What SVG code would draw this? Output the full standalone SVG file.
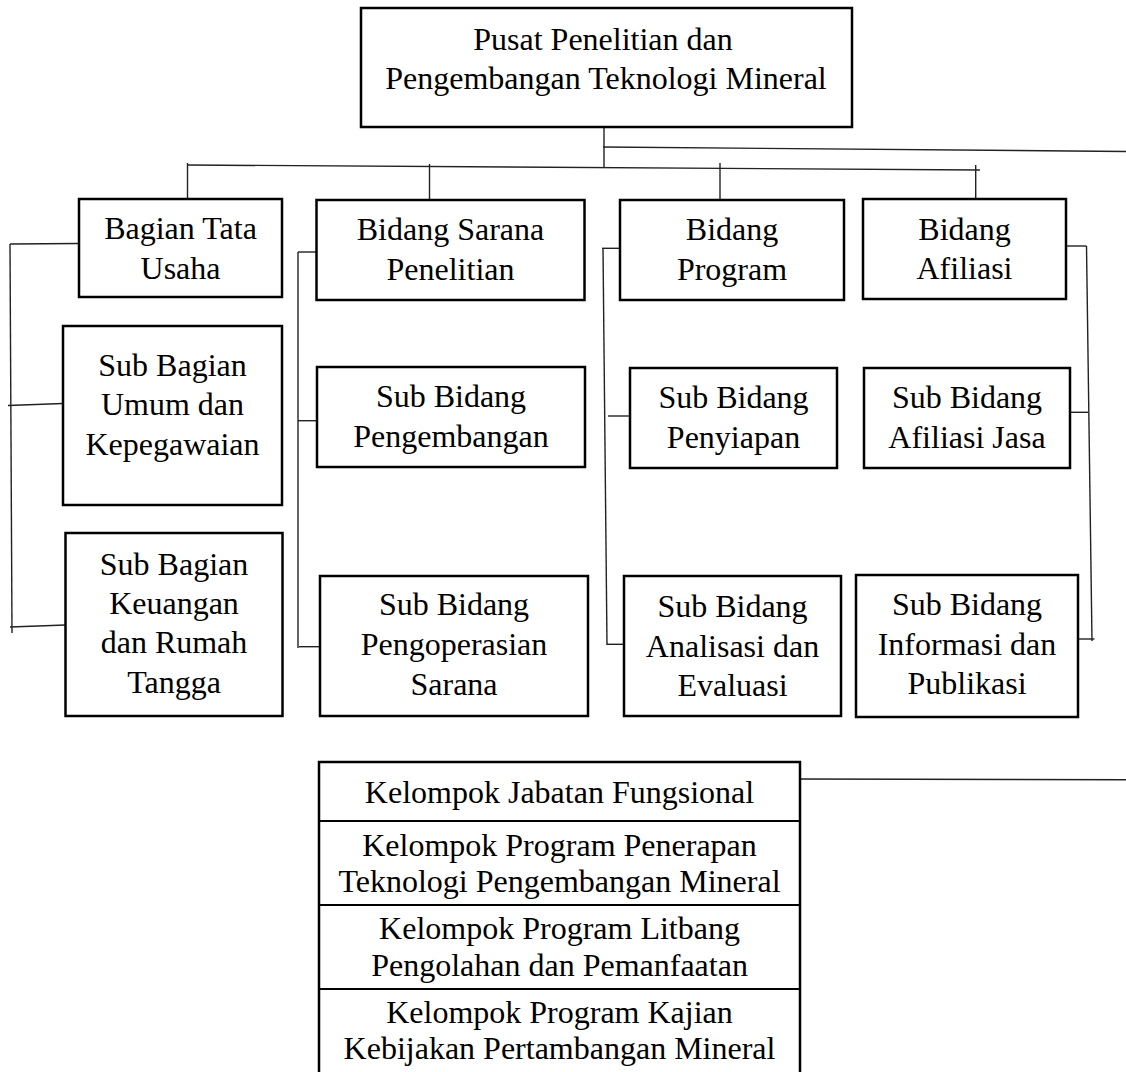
<svg xmlns="http://www.w3.org/2000/svg" width="1126" height="1072" viewBox="0 0 1126 1072">
<style>
.box{fill:#fff;stroke:#000;stroke-width:2.5}
.div{stroke:#000;stroke-width:2.2;fill:none}
.t{font-family:"Liberation Serif","Times New Roman",serif;font-size:32px;text-anchor:middle;fill:#000}
.c{stroke:#222;stroke-width:1.4;fill:none}
</style>
<rect width="1126" height="1072" fill="#fff"/>
<g id="connectors">
<polyline class="c" points="604,127 604,167"/>
<polyline class="c" points="603,147 1126,151.5"/>
<polyline class="c" points="187,165 980,170"/>
<polyline class="c" points="187.5,163 187.5,199"/>
<polyline class="c" points="429.5,164 429.5,200"/>
<polyline class="c" points="720,163 720,200"/>
<polyline class="c" points="975.7,165 975.7,202"/>
<polyline class="c" points="79,243.5 10,244"/>
<polyline class="c" points="10,244 12,633"/>
<polyline class="c" points="8,405.5 63,403.5"/>
<polyline class="c" points="10,627 65.5,625"/>
<polyline class="c" points="316.5,252 298,252"/>
<polyline class="c" points="298,252 298,648"/>
<polyline class="c" points="298,420.7 317,420.7"/>
<polyline class="c" points="299,646.7 320,646.7"/>
<polyline class="c" points="620,248.3 602,248.3"/>
<polyline class="c" points="603,248.3 607,645"/>
<polyline class="c" points="608,416 630,416"/>
<polyline class="c" points="606.7,644.3 624,644.3"/>
<polyline class="c" points="1066,246 1086.5,246"/>
<polyline class="c" points="1086.5,246 1092,641"/>
<polyline class="c" points="1070,412.3 1088,412.3"/>
<polyline class="c" points="1075,639 1094.5,639"/>
<polyline class="c" points="798,779 1126,779.7"/>
</g>
<g id="n-pusat">
<rect class="box" x="361" y="8" width="491" height="119"/>
<text class="t" x="603" y="50">Pusat Penelitian dan</text>
<text class="t" x="606" y="89">Pengembangan Teknologi Mineral</text>
</g>
<g id="n-tatausaha">
<rect class="box" x="79" y="199" width="203" height="98"/>
<text class="t" x="180.5" y="239">Bagian Tata</text>
<text class="t" x="180.5" y="279">Usaha</text>
</g>
<g id="n-sarana">
<rect class="box" x="316.5" y="200" width="268" height="100"/>
<text class="t" x="450.5" y="240">Bidang Sarana</text>
<text class="t" x="450.5" y="280">Penelitian</text>
</g>
<g id="n-program">
<rect class="box" x="620" y="200" width="224" height="100"/>
<text class="t" x="732" y="240">Bidang</text>
<text class="t" x="732" y="280">Program</text>
</g>
<g id="n-afiliasi">
<rect class="box" x="863" y="199" width="203" height="100"/>
<text class="t" x="964.5" y="240">Bidang</text>
<text class="t" x="964.5" y="279">Afiliasi</text>
</g>
<g id="n-umum">
<rect class="box" x="63" y="326" width="219" height="179"/>
<text class="t" x="172.5" y="376">Sub Bagian</text>
<text class="t" x="172.5" y="415">Umum dan</text>
<text class="t" x="172.5" y="455">Kepegawaian</text>
</g>
<g id="n-keuangan">
<rect class="box" x="65.5" y="533" width="217" height="183"/>
<text class="t" x="174" y="575">Sub Bagian</text>
<text class="t" x="174" y="614">Keuangan</text>
<text class="t" x="174" y="653">dan Rumah</text>
<text class="t" x="174" y="693">Tangga</text>
</g>
<g id="n-pengembangan">
<rect class="box" x="317" y="367" width="268" height="100"/>
<text class="t" x="451" y="407">Sub Bidang</text>
<text class="t" x="451" y="447">Pengembangan</text>
</g>
<g id="n-pengoperasian">
<rect class="box" x="320" y="576" width="268" height="140"/>
<text class="t" x="454" y="615">Sub Bidang</text>
<text class="t" x="454" y="655">Pengoperasian</text>
<text class="t" x="454" y="695">Sarana</text>
</g>
<g id="n-penyiapan">
<rect class="box" x="630" y="368" width="207" height="100"/>
<text class="t" x="733.5" y="408">Sub Bidang</text>
<text class="t" x="733.5" y="448">Penyiapan</text>
</g>
<g id="n-analisasi">
<rect class="box" x="624" y="576" width="217" height="140"/>
<text class="t" x="732.5" y="617">Sub Bidang</text>
<text class="t" x="732.5" y="657">Analisasi dan</text>
<text class="t" x="732.5" y="696">Evaluasi</text>
</g>
<g id="n-afiliasijasa">
<rect class="box" x="864" y="368" width="206" height="100"/>
<text class="t" x="967" y="408">Sub Bidang</text>
<text class="t" x="967" y="448">Afiliasi Jasa</text>
</g>
<g id="n-informasi">
<rect class="box" x="856" y="575" width="222" height="142"/>
<text class="t" x="967" y="615">Sub Bidang</text>
<text class="t" x="967" y="655">Informasi dan</text>
<text class="t" x="967" y="694">Publikasi</text>
</g>
<g id="n-kelompok">
<rect class="box" x="319" y="762" width="481" height="340"/>
<line class="div" x1="319" y1="821" x2="800" y2="821"/>
<line class="div" x1="319" y1="905" x2="800" y2="905"/>
<line class="div" x1="319" y1="989" x2="800" y2="989"/>
<text class="t" x="559.5" y="803">Kelompok Jabatan Fungsional</text>
<text class="t" x="559.5" y="856">Kelompok Program Penerapan</text>
<text class="t" x="559.5" y="892">Teknologi Pengembangan Mineral</text>
<text class="t" x="559.5" y="939">Kelompok Program Litbang</text>
<text class="t" x="559.5" y="976">Pengolahan dan Pemanfaatan</text>
<text class="t" x="559.5" y="1023">Kelompok Program Kajian</text>
<text class="t" x="559.5" y="1059">Kebijakan Pertambangan Mineral</text>
</g>
</svg>
